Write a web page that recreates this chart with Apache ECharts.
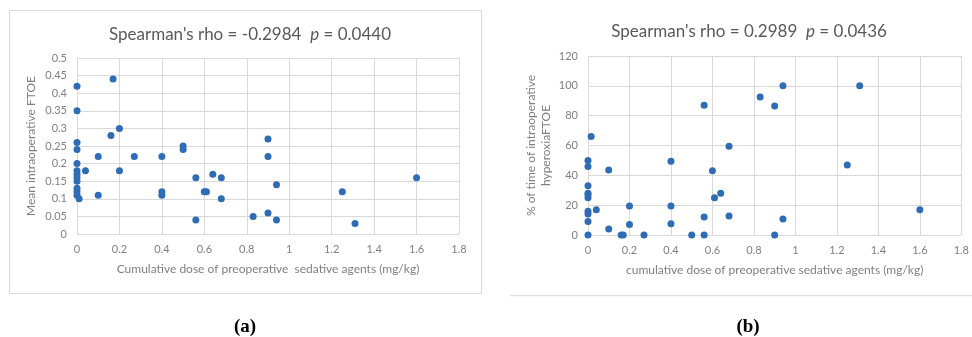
<!DOCTYPE html>
<html><head><meta charset="utf-8">
<script src="https://cdn.jsdelivr.net/npm/echarts@6/dist/echarts.min.js"></script>
<style>html,body{margin:0;padding:0;background:#fff;}#c{width:972px;height:337px;}</style>
</head><body><div id="c"></div>
<script>
// Panel (a): cumulative dose (mg/kg) vs mean intraoperative FTOE
const doseA = [0,0,0,0,0,0,0,0,0,0,0,0,0.01,0.17,0.16,0.2,0.1,0.27,0.4,0.04,0.2,0.1,0.4,0.4,0.5,0.5,0.56,0.56,0.6,0.61,0.64,0.68,0.68,0.83,0.9,0.9,0.9,0.94,0.94,1.25,1.31,1.6];
const ftoeA = [0.42,0.35,0.26,0.24,0.2,0.18,0.17,0.16,0.15,0.13,0.12,0.11,0.10,0.44,0.28,0.30,0.22,0.22,0.22,0.18,0.18,0.11,0.12,0.11,0.25,0.24,0.16,0.04,0.12,0.12,0.17,0.16,0.10,0.05,0.27,0.22,0.06,0.14,0.04,0.12,0.03,0.16];
// Panel (b): cumulative dose (mg/kg) vs % of time of intraoperative hyperoxia FTOE
const doseB = [0,0,0,0,0,0,0,0,0,0,0.015,0.04,0.1,0.1,0.16,0.17,0.2,0.2,0.27,0.4,0.4,0.4,0.5,0.56,0.56,0.56,0.6,0.61,0.64,0.68,0.68,0.83,0.9,0.94,0.94,0.9,1.25,1.31,1.6];
const pctB  = [50,46,33,28,27,25,16,14,9,0,66,17,4,43.5,0,0,19.5,7,0,49.5,19.5,7.5,0,0,12,87,43,25,28,59.5,12.7,92.5,86.5,100,10.7,0,47,100,17];
const xTicksMax = 1.8;
const titleA = {rho: "-0.2984", p: "0.0440"};
const titleB = {rho: "0.2989", p: "0.0436"};

const grey = '#7f7f7f', gridC = '#d9d9d9', dot = '#2e6db5';
const font = 'Lato, "Open Sans", sans-serif';
function pairs(xs, ys){ return xs.map((x,i)=>[x, ys[i]]); }
function title(t, cx, y){
  return {left: cx, top: y, textAlign: 'center',
    text: "Spearman's rho = " + t.rho + "  {i|p} = " + t.p,
    textStyle: {fontFamily: font, fontSize: 17, fontWeight: 'normal', color: '#595959',
      rich: {i: {fontFamily: font, fontSize: 17, fontStyle: 'italic', color: '#595959'}}}};
}
function xAx(gi, name){
  return {gridIndex: gi, type: 'value', min: 0, max: xTicksMax, interval: 0.2,
    name: name, nameLocation: 'middle', nameGap: 29,
    nameTextStyle: {fontFamily: font, fontSize: 12, color: grey},
    axisLine: {show: false}, axisTick: {show: false},
    axisLabel: {fontFamily: font, fontSize: 11, color: grey, margin: 10,
      formatter: v => String(+v.toFixed(1))},
    splitLine: {show: true, lineStyle: {color: gridC}}};
}
function yAx(gi, max, interval, name, gap, fmt){
  return {gridIndex: gi, type: 'value', min: 0, max: max, interval: interval,
    name: name, nameLocation: 'middle', nameGap: gap,
    nameTextStyle: {fontFamily: font, fontSize: 12, color: grey, lineHeight: 15},
    axisLine: {show: false}, axisTick: {show: false},
    axisLabel: {fontFamily: font, fontSize: 11, color: grey, margin: 10, formatter: fmt},
    splitLine: {show: true, lineStyle: {color: gridC}}};
}
const chart = echarts.init(document.getElementById('c'), null, {renderer: 'canvas'});
chart.setOption({
  animation: false,
  backgroundColor: '#fff',
  title: [title(titleA, 245, 21), title(titleB, 744, 18)],
  grid: [
    {left: 77, top: 58, width: 382, height: 176},
    {left: 588, top: 56, width: 375, height: 179}
  ],
  xAxis: [
    xAx(0, 'Cumulative dose of preoperative  sedative agents (mg/kg)'),
    xAx(1, 'cumulative dose of preoperative sedative agents (mg/kg)')
  ],
  yAxis: [
    yAx(0, 0.5, 0.05, 'Mean intraoperative FTOE', 38, v => String(+v.toFixed(2))),
    yAx(1, 120, 20, '% of time of intraoperative\nhyperoxiaFTOE', 34, v => String(v))
  ],
  series: [
    {type: 'scatter', xAxisIndex: 0, yAxisIndex: 0, data: pairs(doseA, ftoeA),
      symbolSize: 7, itemStyle: {color: dot, opacity: 1}},
    {type: 'scatter', xAxisIndex: 1, yAxisIndex: 1, data: pairs(doseB, pctB),
      symbolSize: 7, itemStyle: {color: dot, opacity: 1}}
  ],
  graphic: [
    {type: 'rect', shape: {x: 9.5, y: 10.5, width: 472, height: 283},
      style: {fill: 'none', stroke: gridC, lineWidth: 1}, z: -1},
    {type: 'line', shape: {x1: 510, y1: 295.5, x2: 972, y2: 295.5},
      style: {stroke: '#e3e3e3', lineWidth: 1.5}},
    {type: 'text', x: 245, y: 327, style: {text: '(a)', textAlign: 'center', textVerticalAlign: 'middle',
      font: 'bold 19px "Liberation Serif", "DejaVu Serif", serif', fill: '#000'}},
    {type: 'text', x: 748, y: 327, style: {text: '(b)', textAlign: 'center', textVerticalAlign: 'middle',
      font: 'bold 19px "Liberation Serif", "DejaVu Serif", serif', fill: '#000'}}
  ]
});
</script></body></html>
